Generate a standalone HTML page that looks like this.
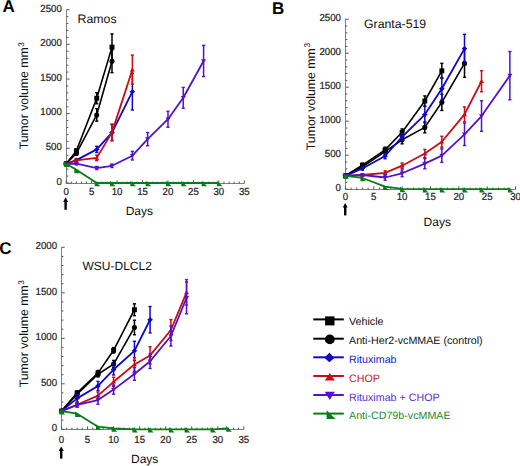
<!DOCTYPE html>
<html><head><meta charset="utf-8"><title>Tumor volume figure</title>
<style>
html,body{margin:0;padding:0;background:#fff;}
body{width:520px;height:466px;overflow:hidden;}
svg{display:block;font-family:"Liberation Sans", sans-serif;text-rendering:geometricPrecision;}
</style></head>
<body>
<svg width="520" height="466" viewBox="0 0 520 466">
<rect width="520" height="466" fill="#fff"/>
<line x1="66" y1="183.5" x2="244.31" y2="183.5" stroke="#808080" stroke-width="1"/>
<line x1="66.5" y1="183.5" x2="66.5" y2="9.7" stroke="#808080" stroke-width="1"/>
<line x1="66.5" y1="183" x2="69.7" y2="183" stroke="#555555" stroke-width="1"/>
<text transform="translate(61.8,184.8) scale(0.95,1)" font-size="10.2" fill="#222222" stroke="#222222" stroke-width="0.22" text-anchor="end">0</text>
<line x1="66.5" y1="176.07" x2="68.4" y2="176.07" stroke="#555555" stroke-width="1"/>
<line x1="66.5" y1="169.14" x2="68.4" y2="169.14" stroke="#555555" stroke-width="1"/>
<line x1="66.5" y1="162.2" x2="68.4" y2="162.2" stroke="#555555" stroke-width="1"/>
<line x1="66.5" y1="155.27" x2="68.4" y2="155.27" stroke="#555555" stroke-width="1"/>
<line x1="66.5" y1="148.34" x2="69.7" y2="148.34" stroke="#555555" stroke-width="1"/>
<text transform="translate(61.8,150.14) scale(0.95,1)" font-size="10.2" fill="#222222" stroke="#222222" stroke-width="0.22" text-anchor="end">500</text>
<line x1="66.5" y1="141.41" x2="68.4" y2="141.41" stroke="#555555" stroke-width="1"/>
<line x1="66.5" y1="134.48" x2="68.4" y2="134.48" stroke="#555555" stroke-width="1"/>
<line x1="66.5" y1="127.54" x2="68.4" y2="127.54" stroke="#555555" stroke-width="1"/>
<line x1="66.5" y1="120.61" x2="68.4" y2="120.61" stroke="#555555" stroke-width="1"/>
<line x1="66.5" y1="113.68" x2="69.7" y2="113.68" stroke="#555555" stroke-width="1"/>
<text transform="translate(61.8,115.48) scale(0.95,1)" font-size="10.2" fill="#222222" stroke="#222222" stroke-width="0.22" text-anchor="end">1000</text>
<line x1="66.5" y1="106.75" x2="68.4" y2="106.75" stroke="#555555" stroke-width="1"/>
<line x1="66.5" y1="99.82" x2="68.4" y2="99.82" stroke="#555555" stroke-width="1"/>
<line x1="66.5" y1="92.88" x2="68.4" y2="92.88" stroke="#555555" stroke-width="1"/>
<line x1="66.5" y1="85.95" x2="68.4" y2="85.95" stroke="#555555" stroke-width="1"/>
<line x1="66.5" y1="79.02" x2="69.7" y2="79.02" stroke="#555555" stroke-width="1"/>
<text transform="translate(61.8,80.82) scale(0.95,1)" font-size="10.2" fill="#222222" stroke="#222222" stroke-width="0.22" text-anchor="end">1500</text>
<line x1="66.5" y1="72.09" x2="68.4" y2="72.09" stroke="#555555" stroke-width="1"/>
<line x1="66.5" y1="65.16" x2="68.4" y2="65.16" stroke="#555555" stroke-width="1"/>
<line x1="66.5" y1="58.22" x2="68.4" y2="58.22" stroke="#555555" stroke-width="1"/>
<line x1="66.5" y1="51.29" x2="68.4" y2="51.29" stroke="#555555" stroke-width="1"/>
<line x1="66.5" y1="44.36" x2="69.7" y2="44.36" stroke="#555555" stroke-width="1"/>
<text transform="translate(61.8,46.16) scale(0.95,1)" font-size="10.2" fill="#222222" stroke="#222222" stroke-width="0.22" text-anchor="end">2000</text>
<line x1="66.5" y1="37.43" x2="68.4" y2="37.43" stroke="#555555" stroke-width="1"/>
<line x1="66.5" y1="30.5" x2="68.4" y2="30.5" stroke="#555555" stroke-width="1"/>
<line x1="66.5" y1="23.56" x2="68.4" y2="23.56" stroke="#555555" stroke-width="1"/>
<line x1="66.5" y1="16.63" x2="68.4" y2="16.63" stroke="#555555" stroke-width="1"/>
<line x1="66.5" y1="9.7" x2="69.7" y2="9.7" stroke="#555555" stroke-width="1"/>
<text transform="translate(61.8,11.5) scale(0.95,1)" font-size="10.2" fill="#222222" stroke="#222222" stroke-width="0.22" text-anchor="end">2500</text>
<line x1="66.2" y1="183.5" x2="66.2" y2="180.3" stroke="#555555" stroke-width="1"/>
<text transform="translate(66.2,194.7) scale(0.95,1)" font-size="10.2" fill="#222222" stroke="#222222" stroke-width="0.22" text-anchor="middle">0</text>
<line x1="71.29" y1="183.5" x2="71.29" y2="181.6" stroke="#555555" stroke-width="1"/>
<line x1="76.38" y1="183.5" x2="76.38" y2="181.6" stroke="#555555" stroke-width="1"/>
<line x1="81.47" y1="183.5" x2="81.47" y2="181.6" stroke="#555555" stroke-width="1"/>
<line x1="86.56" y1="183.5" x2="86.56" y2="181.6" stroke="#555555" stroke-width="1"/>
<line x1="91.65" y1="183.5" x2="91.65" y2="180.3" stroke="#555555" stroke-width="1"/>
<text transform="translate(91.65,194.7) scale(0.95,1)" font-size="10.2" fill="#222222" stroke="#222222" stroke-width="0.22" text-anchor="middle">5</text>
<line x1="96.73" y1="183.5" x2="96.73" y2="181.6" stroke="#555555" stroke-width="1"/>
<line x1="101.82" y1="183.5" x2="101.82" y2="181.6" stroke="#555555" stroke-width="1"/>
<line x1="106.91" y1="183.5" x2="106.91" y2="181.6" stroke="#555555" stroke-width="1"/>
<line x1="112" y1="183.5" x2="112" y2="181.6" stroke="#555555" stroke-width="1"/>
<line x1="117.09" y1="183.5" x2="117.09" y2="180.3" stroke="#555555" stroke-width="1"/>
<text transform="translate(117.09,194.7) scale(0.95,1)" font-size="10.2" fill="#222222" stroke="#222222" stroke-width="0.22" text-anchor="middle">10</text>
<line x1="122.18" y1="183.5" x2="122.18" y2="181.6" stroke="#555555" stroke-width="1"/>
<line x1="127.27" y1="183.5" x2="127.27" y2="181.6" stroke="#555555" stroke-width="1"/>
<line x1="132.36" y1="183.5" x2="132.36" y2="181.6" stroke="#555555" stroke-width="1"/>
<line x1="137.45" y1="183.5" x2="137.45" y2="181.6" stroke="#555555" stroke-width="1"/>
<line x1="142.54" y1="183.5" x2="142.54" y2="180.3" stroke="#555555" stroke-width="1"/>
<text transform="translate(142.54,194.7) scale(0.95,1)" font-size="10.2" fill="#222222" stroke="#222222" stroke-width="0.22" text-anchor="middle">15</text>
<line x1="147.62" y1="183.5" x2="147.62" y2="181.6" stroke="#555555" stroke-width="1"/>
<line x1="152.71" y1="183.5" x2="152.71" y2="181.6" stroke="#555555" stroke-width="1"/>
<line x1="157.8" y1="183.5" x2="157.8" y2="181.6" stroke="#555555" stroke-width="1"/>
<line x1="162.89" y1="183.5" x2="162.89" y2="181.6" stroke="#555555" stroke-width="1"/>
<line x1="167.98" y1="183.5" x2="167.98" y2="180.3" stroke="#555555" stroke-width="1"/>
<text transform="translate(167.98,194.7) scale(0.95,1)" font-size="10.2" fill="#222222" stroke="#222222" stroke-width="0.22" text-anchor="middle">20</text>
<line x1="173.07" y1="183.5" x2="173.07" y2="181.6" stroke="#555555" stroke-width="1"/>
<line x1="178.16" y1="183.5" x2="178.16" y2="181.6" stroke="#555555" stroke-width="1"/>
<line x1="183.25" y1="183.5" x2="183.25" y2="181.6" stroke="#555555" stroke-width="1"/>
<line x1="188.34" y1="183.5" x2="188.34" y2="181.6" stroke="#555555" stroke-width="1"/>
<line x1="193.43" y1="183.5" x2="193.43" y2="180.3" stroke="#555555" stroke-width="1"/>
<text transform="translate(193.43,194.7) scale(0.95,1)" font-size="10.2" fill="#222222" stroke="#222222" stroke-width="0.22" text-anchor="middle">25</text>
<line x1="198.51" y1="183.5" x2="198.51" y2="181.6" stroke="#555555" stroke-width="1"/>
<line x1="203.6" y1="183.5" x2="203.6" y2="181.6" stroke="#555555" stroke-width="1"/>
<line x1="208.69" y1="183.5" x2="208.69" y2="181.6" stroke="#555555" stroke-width="1"/>
<line x1="213.78" y1="183.5" x2="213.78" y2="181.6" stroke="#555555" stroke-width="1"/>
<line x1="218.87" y1="183.5" x2="218.87" y2="180.3" stroke="#555555" stroke-width="1"/>
<text transform="translate(218.87,194.7) scale(0.95,1)" font-size="10.2" fill="#222222" stroke="#222222" stroke-width="0.22" text-anchor="middle">30</text>
<line x1="223.96" y1="183.5" x2="223.96" y2="181.6" stroke="#555555" stroke-width="1"/>
<line x1="229.05" y1="183.5" x2="229.05" y2="181.6" stroke="#555555" stroke-width="1"/>
<line x1="234.14" y1="183.5" x2="234.14" y2="181.6" stroke="#555555" stroke-width="1"/>
<line x1="239.23" y1="183.5" x2="239.23" y2="181.6" stroke="#555555" stroke-width="1"/>
<line x1="244.31" y1="183.5" x2="244.31" y2="180.3" stroke="#555555" stroke-width="1"/>
<text transform="translate(244.31,194.7) scale(0.95,1)" font-size="10.2" fill="#222222" stroke="#222222" stroke-width="0.22" text-anchor="middle">35</text>
<polygon points="65.6,197.3 68.1,201.9 63.1,201.9" fill="#000"/>
<line x1="65.6" y1="201.3" x2="65.6" y2="209.8" stroke="#000" stroke-width="2.4"/>
<text x="77.6" y="22.6" font-size="12.3" fill="#111" text-anchor="start" font-weight="normal">Ramos</text>
<text x="125.7" y="214.7" font-size="12" fill="#111" text-anchor="start" font-weight="normal">Days</text>
<text transform="translate(28.2,149.3) rotate(-90)" font-size="12.3" fill="#111">Tumor volume mm<tspan font-size="8.4" dy="-4.6" dx="0.6">3</tspan></text>
<text x="2.4" y="12.4" font-size="17" fill="#000" text-anchor="start" font-weight="bold">A</text>
<polyline points="66.2,163.73 76.38,150.9 96.73,98.22 112,47.13" fill="none" stroke="#000000" stroke-width="1.6" stroke-linejoin="round"/>
<line x1="76.38" y1="148.83" x2="76.38" y2="152.98" stroke="#000000" stroke-width="1.5"/>
<line x1="74.78" y1="148.83" x2="77.98" y2="148.83" stroke="#000000" stroke-width="1.4"/>
<line x1="74.78" y1="152.98" x2="77.98" y2="152.98" stroke="#000000" stroke-width="1.4"/>
<line x1="96.73" y1="92.68" x2="96.73" y2="103.77" stroke="#000000" stroke-width="1.5"/>
<line x1="95.13" y1="92.68" x2="98.33" y2="92.68" stroke="#000000" stroke-width="1.4"/>
<line x1="95.13" y1="103.77" x2="98.33" y2="103.77" stroke="#000000" stroke-width="1.4"/>
<line x1="112" y1="33.96" x2="112" y2="60.3" stroke="#000000" stroke-width="1.5"/>
<line x1="110.4" y1="33.96" x2="113.6" y2="33.96" stroke="#000000" stroke-width="1.4"/>
<line x1="110.4" y1="60.3" x2="113.6" y2="60.3" stroke="#000000" stroke-width="1.4"/>
<rect x="63.75" y="161.28" width="4.9" height="4.9" fill="#000000"/>
<rect x="73.93" y="148.45" width="4.9" height="4.9" fill="#000000"/>
<rect x="94.28" y="95.77" width="4.9" height="4.9" fill="#000000"/>
<rect x="109.55" y="44.68" width="4.9" height="4.9" fill="#000000"/>
<polyline points="66.2,163.73 76.38,153.4 96.73,114.93 112,61.2" fill="none" stroke="#000000" stroke-width="1.6" stroke-linejoin="round"/>
<line x1="76.38" y1="151.67" x2="76.38" y2="155.13" stroke="#000000" stroke-width="1.5"/>
<line x1="74.78" y1="151.67" x2="77.98" y2="151.67" stroke="#000000" stroke-width="1.4"/>
<line x1="74.78" y1="155.13" x2="77.98" y2="155.13" stroke="#000000" stroke-width="1.4"/>
<line x1="96.73" y1="108.69" x2="96.73" y2="121.17" stroke="#000000" stroke-width="1.5"/>
<line x1="95.13" y1="108.69" x2="98.33" y2="108.69" stroke="#000000" stroke-width="1.4"/>
<line x1="95.13" y1="121.17" x2="98.33" y2="121.17" stroke="#000000" stroke-width="1.4"/>
<line x1="112" y1="49.77" x2="112" y2="72.64" stroke="#000000" stroke-width="1.5"/>
<line x1="110.4" y1="49.77" x2="113.6" y2="49.77" stroke="#000000" stroke-width="1.4"/>
<line x1="110.4" y1="72.64" x2="113.6" y2="72.64" stroke="#000000" stroke-width="1.4"/>
<circle cx="66.2" cy="163.73" r="2.55" fill="#000000"/>
<circle cx="76.38" cy="153.4" r="2.55" fill="#000000"/>
<circle cx="96.73" cy="114.93" r="2.55" fill="#000000"/>
<circle cx="112" cy="61.2" r="2.55" fill="#000000"/>
<polyline points="66.2,163.73 76.38,160.12 96.73,149.38 112,132.54 132.36,91.64" fill="none" stroke="#1008c4" stroke-width="1.8" stroke-linejoin="round"/>
<line x1="76.38" y1="158.74" x2="76.38" y2="161.51" stroke="#1008c4" stroke-width="1.5"/>
<line x1="74.78" y1="158.74" x2="77.98" y2="158.74" stroke="#1008c4" stroke-width="1.4"/>
<line x1="74.78" y1="161.51" x2="77.98" y2="161.51" stroke="#1008c4" stroke-width="1.4"/>
<line x1="96.73" y1="146.26" x2="96.73" y2="152.5" stroke="#1008c4" stroke-width="1.5"/>
<line x1="95.13" y1="146.26" x2="98.33" y2="146.26" stroke="#1008c4" stroke-width="1.4"/>
<line x1="95.13" y1="152.5" x2="98.33" y2="152.5" stroke="#1008c4" stroke-width="1.4"/>
<line x1="112" y1="124.56" x2="112" y2="140.51" stroke="#1008c4" stroke-width="1.5"/>
<line x1="110.4" y1="124.56" x2="113.6" y2="124.56" stroke="#1008c4" stroke-width="1.4"/>
<line x1="110.4" y1="140.51" x2="113.6" y2="140.51" stroke="#1008c4" stroke-width="1.4"/>
<line x1="132.36" y1="73.27" x2="132.36" y2="110.01" stroke="#1008c4" stroke-width="1.5"/>
<line x1="130.76" y1="73.27" x2="133.96" y2="73.27" stroke="#1008c4" stroke-width="1.4"/>
<line x1="130.76" y1="110.01" x2="133.96" y2="110.01" stroke="#1008c4" stroke-width="1.4"/>
<polygon points="66.2,161.03 69,163.73 66.2,166.43 63.4,163.73" fill="#1008c4"/>
<polygon points="76.38,157.42 79.18,160.12 76.38,162.82 73.58,160.12" fill="#1008c4"/>
<polygon points="96.73,146.68 99.53,149.38 96.73,152.08 93.93,149.38" fill="#1008c4"/>
<polygon points="112,129.84 114.8,132.54 112,135.24 109.2,132.54" fill="#1008c4"/>
<polygon points="132.36,88.94 135.16,91.64 132.36,94.34 129.56,91.64" fill="#1008c4"/>
<polyline points="66.2,163.73 76.38,160.33 96.73,157.91 112,132.4 132.36,69.66" fill="none" stroke="#c80c18" stroke-width="1.8" stroke-linejoin="round"/>
<line x1="76.38" y1="158.95" x2="76.38" y2="161.72" stroke="#c80c18" stroke-width="1.5"/>
<line x1="74.78" y1="158.95" x2="77.98" y2="158.95" stroke="#c80c18" stroke-width="1.4"/>
<line x1="74.78" y1="161.72" x2="77.98" y2="161.72" stroke="#c80c18" stroke-width="1.4"/>
<line x1="96.73" y1="155.13" x2="96.73" y2="160.68" stroke="#c80c18" stroke-width="1.5"/>
<line x1="95.13" y1="155.13" x2="98.33" y2="155.13" stroke="#c80c18" stroke-width="1.4"/>
<line x1="95.13" y1="160.68" x2="98.33" y2="160.68" stroke="#c80c18" stroke-width="1.4"/>
<line x1="112" y1="124.08" x2="112" y2="140.71" stroke="#c80c18" stroke-width="1.5"/>
<line x1="110.4" y1="124.08" x2="113.6" y2="124.08" stroke="#c80c18" stroke-width="1.4"/>
<line x1="110.4" y1="140.71" x2="113.6" y2="140.71" stroke="#c80c18" stroke-width="1.4"/>
<line x1="132.36" y1="55.1" x2="132.36" y2="84.22" stroke="#c80c18" stroke-width="1.5"/>
<line x1="130.76" y1="55.1" x2="133.96" y2="55.1" stroke="#c80c18" stroke-width="1.4"/>
<line x1="130.76" y1="84.22" x2="133.96" y2="84.22" stroke="#c80c18" stroke-width="1.4"/>
<polygon points="66.2,161.53 68.7,165.53 63.7,165.53" fill="#c80c18"/>
<polygon points="76.38,158.13 78.88,162.13 73.88,162.13" fill="#c80c18"/>
<polygon points="96.73,155.71 99.23,159.71 94.23,159.71" fill="#c80c18"/>
<polygon points="112,130.2 114.5,134.2 109.5,134.2" fill="#c80c18"/>
<polygon points="132.36,67.46 134.86,71.46 129.86,71.46" fill="#c80c18"/>
<polyline points="66.2,163.73 76.38,163.73 96.73,168.03 112,165.81 132.36,155.69 147.62,139.12 167.98,119.23 183.25,97.81 203.6,61" fill="none" stroke="#5412cc" stroke-width="1.8" stroke-linejoin="round"/>
<line x1="76.38" y1="162.69" x2="76.38" y2="164.77" stroke="#5412cc" stroke-width="1.5"/>
<line x1="74.78" y1="162.69" x2="77.98" y2="162.69" stroke="#5412cc" stroke-width="1.4"/>
<line x1="74.78" y1="164.77" x2="77.98" y2="164.77" stroke="#5412cc" stroke-width="1.4"/>
<line x1="96.73" y1="166.5" x2="96.73" y2="169.55" stroke="#5412cc" stroke-width="1.5"/>
<line x1="95.13" y1="166.5" x2="98.33" y2="166.5" stroke="#5412cc" stroke-width="1.4"/>
<line x1="95.13" y1="169.55" x2="98.33" y2="169.55" stroke="#5412cc" stroke-width="1.4"/>
<line x1="112" y1="164.08" x2="112" y2="167.54" stroke="#5412cc" stroke-width="1.5"/>
<line x1="110.4" y1="164.08" x2="113.6" y2="164.08" stroke="#5412cc" stroke-width="1.4"/>
<line x1="110.4" y1="167.54" x2="113.6" y2="167.54" stroke="#5412cc" stroke-width="1.4"/>
<line x1="132.36" y1="151.39" x2="132.36" y2="159.99" stroke="#5412cc" stroke-width="1.5"/>
<line x1="130.76" y1="151.39" x2="133.96" y2="151.39" stroke="#5412cc" stroke-width="1.4"/>
<line x1="130.76" y1="159.99" x2="133.96" y2="159.99" stroke="#5412cc" stroke-width="1.4"/>
<line x1="147.62" y1="132.54" x2="147.62" y2="145.71" stroke="#5412cc" stroke-width="1.5"/>
<line x1="146.02" y1="132.54" x2="149.22" y2="132.54" stroke="#5412cc" stroke-width="1.4"/>
<line x1="146.02" y1="145.71" x2="149.22" y2="145.71" stroke="#5412cc" stroke-width="1.4"/>
<line x1="167.98" y1="111.25" x2="167.98" y2="127.2" stroke="#5412cc" stroke-width="1.5"/>
<line x1="166.38" y1="111.25" x2="169.58" y2="111.25" stroke="#5412cc" stroke-width="1.4"/>
<line x1="166.38" y1="127.2" x2="169.58" y2="127.2" stroke="#5412cc" stroke-width="1.4"/>
<line x1="183.25" y1="87.41" x2="183.25" y2="108.2" stroke="#5412cc" stroke-width="1.5"/>
<line x1="181.65" y1="87.41" x2="184.85" y2="87.41" stroke="#5412cc" stroke-width="1.4"/>
<line x1="181.65" y1="108.2" x2="184.85" y2="108.2" stroke="#5412cc" stroke-width="1.4"/>
<line x1="203.6" y1="45.4" x2="203.6" y2="76.59" stroke="#5412cc" stroke-width="1.5"/>
<line x1="202" y1="45.4" x2="205.2" y2="45.4" stroke="#5412cc" stroke-width="1.4"/>
<line x1="202" y1="76.59" x2="205.2" y2="76.59" stroke="#5412cc" stroke-width="1.4"/>
<polygon points="66.2,165.93 68.7,161.93 63.7,161.93" fill="#5412cc"/>
<polygon points="76.38,165.93 78.88,161.93 73.88,161.93" fill="#5412cc"/>
<polygon points="96.73,170.23 99.23,166.23 94.23,166.23" fill="#5412cc"/>
<polygon points="112,168.01 114.5,164.01 109.5,164.01" fill="#5412cc"/>
<polygon points="132.36,157.89 134.86,153.89 129.86,153.89" fill="#5412cc"/>
<polygon points="147.62,141.32 150.12,137.32 145.12,137.32" fill="#5412cc"/>
<polygon points="167.98,121.43 170.48,117.43 165.48,117.43" fill="#5412cc"/>
<polygon points="183.25,100.01 185.75,96.01 180.75,96.01" fill="#5412cc"/>
<polygon points="203.6,63.2 206.1,59.2 201.1,59.2" fill="#5412cc"/>
<polyline points="66.2,163.73 76.38,169.83 96.73,183 112,183 132.36,183 147.62,183 167.98,183 183.25,183 203.6,183 218.87,183" fill="none" stroke="#077c18" stroke-width="1.8" stroke-linejoin="round"/>
<polygon points="64.2,161.43 64.2,167.03 69.8,167.03" fill="#077c18"/>
<polygon points="74.38,167.53 74.38,173.13 79.98,173.13" fill="#077c18"/>
<polygon points="94.73,180.7 94.73,186.3 100.33,186.3" fill="#077c18"/>
<polygon points="110,180.7 110,186.3 115.6,186.3" fill="#077c18"/>
<polygon points="130.36,180.7 130.36,186.3 135.96,186.3" fill="#077c18"/>
<polygon points="145.62,180.7 145.62,186.3 151.22,186.3" fill="#077c18"/>
<polygon points="165.98,180.7 165.98,186.3 171.58,186.3" fill="#077c18"/>
<polygon points="181.25,180.7 181.25,186.3 186.85,186.3" fill="#077c18"/>
<polygon points="201.6,180.7 201.6,186.3 207.2,186.3" fill="#077c18"/>
<polygon points="216.87,180.7 216.87,186.3 222.47,186.3" fill="#077c18"/>
<line x1="345" y1="189.5" x2="515.56" y2="189.5" stroke="#808080" stroke-width="1"/>
<line x1="345.5" y1="189.5" x2="345.5" y2="19.2" stroke="#808080" stroke-width="1"/>
<line x1="345.5" y1="189.2" x2="348.7" y2="189.2" stroke="#555555" stroke-width="1"/>
<text transform="translate(341,191) scale(0.95,1)" font-size="10.2" fill="#222222" stroke="#222222" stroke-width="0.22" text-anchor="end">0</text>
<line x1="345.5" y1="182.4" x2="347.4" y2="182.4" stroke="#555555" stroke-width="1"/>
<line x1="345.5" y1="175.6" x2="347.4" y2="175.6" stroke="#555555" stroke-width="1"/>
<line x1="345.5" y1="168.8" x2="347.4" y2="168.8" stroke="#555555" stroke-width="1"/>
<line x1="345.5" y1="162" x2="347.4" y2="162" stroke="#555555" stroke-width="1"/>
<line x1="345.5" y1="155.2" x2="348.7" y2="155.2" stroke="#555555" stroke-width="1"/>
<text transform="translate(341,157) scale(0.95,1)" font-size="10.2" fill="#222222" stroke="#222222" stroke-width="0.22" text-anchor="end">500</text>
<line x1="345.5" y1="148.4" x2="347.4" y2="148.4" stroke="#555555" stroke-width="1"/>
<line x1="345.5" y1="141.6" x2="347.4" y2="141.6" stroke="#555555" stroke-width="1"/>
<line x1="345.5" y1="134.8" x2="347.4" y2="134.8" stroke="#555555" stroke-width="1"/>
<line x1="345.5" y1="128" x2="347.4" y2="128" stroke="#555555" stroke-width="1"/>
<line x1="345.5" y1="121.2" x2="348.7" y2="121.2" stroke="#555555" stroke-width="1"/>
<text transform="translate(341,123) scale(0.95,1)" font-size="10.2" fill="#222222" stroke="#222222" stroke-width="0.22" text-anchor="end">1000</text>
<line x1="345.5" y1="114.4" x2="347.4" y2="114.4" stroke="#555555" stroke-width="1"/>
<line x1="345.5" y1="107.6" x2="347.4" y2="107.6" stroke="#555555" stroke-width="1"/>
<line x1="345.5" y1="100.8" x2="347.4" y2="100.8" stroke="#555555" stroke-width="1"/>
<line x1="345.5" y1="94" x2="347.4" y2="94" stroke="#555555" stroke-width="1"/>
<line x1="345.5" y1="87.2" x2="348.7" y2="87.2" stroke="#555555" stroke-width="1"/>
<text transform="translate(341,89) scale(0.95,1)" font-size="10.2" fill="#222222" stroke="#222222" stroke-width="0.22" text-anchor="end">1500</text>
<line x1="345.5" y1="80.4" x2="347.4" y2="80.4" stroke="#555555" stroke-width="1"/>
<line x1="345.5" y1="73.6" x2="347.4" y2="73.6" stroke="#555555" stroke-width="1"/>
<line x1="345.5" y1="66.8" x2="347.4" y2="66.8" stroke="#555555" stroke-width="1"/>
<line x1="345.5" y1="60" x2="347.4" y2="60" stroke="#555555" stroke-width="1"/>
<line x1="345.5" y1="53.2" x2="348.7" y2="53.2" stroke="#555555" stroke-width="1"/>
<text transform="translate(341,55) scale(0.95,1)" font-size="10.2" fill="#222222" stroke="#222222" stroke-width="0.22" text-anchor="end">2000</text>
<line x1="345.5" y1="46.4" x2="347.4" y2="46.4" stroke="#555555" stroke-width="1"/>
<line x1="345.5" y1="39.6" x2="347.4" y2="39.6" stroke="#555555" stroke-width="1"/>
<line x1="345.5" y1="32.8" x2="347.4" y2="32.8" stroke="#555555" stroke-width="1"/>
<line x1="345.5" y1="26" x2="347.4" y2="26" stroke="#555555" stroke-width="1"/>
<line x1="345.5" y1="19.2" x2="348.7" y2="19.2" stroke="#555555" stroke-width="1"/>
<text transform="translate(341,21) scale(0.95,1)" font-size="10.2" fill="#222222" stroke="#222222" stroke-width="0.22" text-anchor="end">2500</text>
<line x1="345.4" y1="189.5" x2="345.4" y2="186.3" stroke="#555555" stroke-width="1"/>
<text transform="translate(345.4,200.1) scale(0.95,1)" font-size="10.2" fill="#222222" stroke="#222222" stroke-width="0.22" text-anchor="middle">0</text>
<line x1="351.07" y1="189.5" x2="351.07" y2="187.6" stroke="#555555" stroke-width="1"/>
<line x1="356.74" y1="189.5" x2="356.74" y2="187.6" stroke="#555555" stroke-width="1"/>
<line x1="362.42" y1="189.5" x2="362.42" y2="187.6" stroke="#555555" stroke-width="1"/>
<line x1="368.09" y1="189.5" x2="368.09" y2="187.6" stroke="#555555" stroke-width="1"/>
<line x1="373.76" y1="189.5" x2="373.76" y2="186.3" stroke="#555555" stroke-width="1"/>
<text transform="translate(373.76,200.1) scale(0.95,1)" font-size="10.2" fill="#222222" stroke="#222222" stroke-width="0.22" text-anchor="middle">5</text>
<line x1="379.43" y1="189.5" x2="379.43" y2="187.6" stroke="#555555" stroke-width="1"/>
<line x1="385.1" y1="189.5" x2="385.1" y2="187.6" stroke="#555555" stroke-width="1"/>
<line x1="390.78" y1="189.5" x2="390.78" y2="187.6" stroke="#555555" stroke-width="1"/>
<line x1="396.45" y1="189.5" x2="396.45" y2="187.6" stroke="#555555" stroke-width="1"/>
<line x1="402.12" y1="189.5" x2="402.12" y2="186.3" stroke="#555555" stroke-width="1"/>
<text transform="translate(402.12,200.1) scale(0.95,1)" font-size="10.2" fill="#222222" stroke="#222222" stroke-width="0.22" text-anchor="middle">10</text>
<line x1="407.79" y1="189.5" x2="407.79" y2="187.6" stroke="#555555" stroke-width="1"/>
<line x1="413.46" y1="189.5" x2="413.46" y2="187.6" stroke="#555555" stroke-width="1"/>
<line x1="419.14" y1="189.5" x2="419.14" y2="187.6" stroke="#555555" stroke-width="1"/>
<line x1="424.81" y1="189.5" x2="424.81" y2="187.6" stroke="#555555" stroke-width="1"/>
<line x1="430.48" y1="189.5" x2="430.48" y2="186.3" stroke="#555555" stroke-width="1"/>
<text transform="translate(430.48,200.1) scale(0.95,1)" font-size="10.2" fill="#222222" stroke="#222222" stroke-width="0.22" text-anchor="middle">15</text>
<line x1="436.15" y1="189.5" x2="436.15" y2="187.6" stroke="#555555" stroke-width="1"/>
<line x1="441.82" y1="189.5" x2="441.82" y2="187.6" stroke="#555555" stroke-width="1"/>
<line x1="447.5" y1="189.5" x2="447.5" y2="187.6" stroke="#555555" stroke-width="1"/>
<line x1="453.17" y1="189.5" x2="453.17" y2="187.6" stroke="#555555" stroke-width="1"/>
<line x1="458.84" y1="189.5" x2="458.84" y2="186.3" stroke="#555555" stroke-width="1"/>
<text transform="translate(458.84,200.1) scale(0.95,1)" font-size="10.2" fill="#222222" stroke="#222222" stroke-width="0.22" text-anchor="middle">20</text>
<line x1="464.51" y1="189.5" x2="464.51" y2="187.6" stroke="#555555" stroke-width="1"/>
<line x1="470.18" y1="189.5" x2="470.18" y2="187.6" stroke="#555555" stroke-width="1"/>
<line x1="475.86" y1="189.5" x2="475.86" y2="187.6" stroke="#555555" stroke-width="1"/>
<line x1="481.53" y1="189.5" x2="481.53" y2="187.6" stroke="#555555" stroke-width="1"/>
<line x1="487.2" y1="189.5" x2="487.2" y2="186.3" stroke="#555555" stroke-width="1"/>
<text transform="translate(487.2,200.1) scale(0.95,1)" font-size="10.2" fill="#222222" stroke="#222222" stroke-width="0.22" text-anchor="middle">25</text>
<line x1="492.87" y1="189.5" x2="492.87" y2="187.6" stroke="#555555" stroke-width="1"/>
<line x1="498.54" y1="189.5" x2="498.54" y2="187.6" stroke="#555555" stroke-width="1"/>
<line x1="504.22" y1="189.5" x2="504.22" y2="187.6" stroke="#555555" stroke-width="1"/>
<line x1="509.89" y1="189.5" x2="509.89" y2="187.6" stroke="#555555" stroke-width="1"/>
<line x1="515.56" y1="189.5" x2="515.56" y2="186.3" stroke="#555555" stroke-width="1"/>
<text transform="translate(515.56,200.1) scale(0.95,1)" font-size="10.2" fill="#222222" stroke="#222222" stroke-width="0.22" text-anchor="middle">30</text>
<polygon points="345.2,202.9 347.7,207.5 342.7,207.5" fill="#000"/>
<line x1="345.2" y1="206.9" x2="345.2" y2="215.4" stroke="#000" stroke-width="2.4"/>
<text x="364" y="27.9" font-size="12.3" fill="#111" text-anchor="start" font-weight="normal">Granta-519</text>
<text x="423.6" y="225.6" font-size="12" fill="#111" text-anchor="start" font-weight="normal">Days</text>
<text transform="translate(314.8,150.2) rotate(-90)" font-size="12.3" fill="#111">Tumor volume mm<tspan font-size="8.4" dy="-4.6" dx="0.6">3</tspan></text>
<text x="272" y="14.4" font-size="17" fill="#000" text-anchor="start" font-weight="bold">B</text>
<polyline points="345.4,175.8 362.42,165.2 385.1,149.9 402.12,132.28 424.81,101 441.82,70.81" fill="none" stroke="#000000" stroke-width="1.6" stroke-linejoin="round"/>
<line x1="362.42" y1="163.16" x2="362.42" y2="167.24" stroke="#000000" stroke-width="1.5"/>
<line x1="360.82" y1="163.16" x2="364.02" y2="163.16" stroke="#000000" stroke-width="1.4"/>
<line x1="360.82" y1="167.24" x2="364.02" y2="167.24" stroke="#000000" stroke-width="1.4"/>
<line x1="385.1" y1="147.18" x2="385.1" y2="152.62" stroke="#000000" stroke-width="1.5"/>
<line x1="383.5" y1="147.18" x2="386.7" y2="147.18" stroke="#000000" stroke-width="1.4"/>
<line x1="383.5" y1="152.62" x2="386.7" y2="152.62" stroke="#000000" stroke-width="1.4"/>
<line x1="402.12" y1="128.88" x2="402.12" y2="135.68" stroke="#000000" stroke-width="1.5"/>
<line x1="400.52" y1="128.88" x2="403.72" y2="128.88" stroke="#000000" stroke-width="1.4"/>
<line x1="400.52" y1="135.68" x2="403.72" y2="135.68" stroke="#000000" stroke-width="1.4"/>
<line x1="424.81" y1="95.9" x2="424.81" y2="106.1" stroke="#000000" stroke-width="1.5"/>
<line x1="423.21" y1="95.9" x2="426.41" y2="95.9" stroke="#000000" stroke-width="1.4"/>
<line x1="423.21" y1="106.1" x2="426.41" y2="106.1" stroke="#000000" stroke-width="1.4"/>
<line x1="441.82" y1="63.33" x2="441.82" y2="78.29" stroke="#000000" stroke-width="1.5"/>
<line x1="440.22" y1="63.33" x2="443.42" y2="63.33" stroke="#000000" stroke-width="1.4"/>
<line x1="440.22" y1="78.29" x2="443.42" y2="78.29" stroke="#000000" stroke-width="1.4"/>
<rect x="342.95" y="173.35" width="4.9" height="4.9" fill="#000000"/>
<rect x="359.97" y="162.75" width="4.9" height="4.9" fill="#000000"/>
<rect x="382.65" y="147.45" width="4.9" height="4.9" fill="#000000"/>
<rect x="399.67" y="129.83" width="4.9" height="4.9" fill="#000000"/>
<rect x="422.36" y="98.55" width="4.9" height="4.9" fill="#000000"/>
<rect x="439.37" y="68.36" width="4.9" height="4.9" fill="#000000"/>
<polyline points="345.4,175.8 362.42,166.76 385.1,151.6 402.12,139.76 424.81,127.39 441.82,102.3 464.51,63.4" fill="none" stroke="#000000" stroke-width="1.6" stroke-linejoin="round"/>
<line x1="362.42" y1="165.06" x2="362.42" y2="168.46" stroke="#000000" stroke-width="1.5"/>
<line x1="360.82" y1="165.06" x2="364.02" y2="165.06" stroke="#000000" stroke-width="1.4"/>
<line x1="360.82" y1="168.46" x2="364.02" y2="168.46" stroke="#000000" stroke-width="1.4"/>
<line x1="385.1" y1="149.22" x2="385.1" y2="153.98" stroke="#000000" stroke-width="1.5"/>
<line x1="383.5" y1="149.22" x2="386.7" y2="149.22" stroke="#000000" stroke-width="1.4"/>
<line x1="383.5" y1="153.98" x2="386.7" y2="153.98" stroke="#000000" stroke-width="1.4"/>
<line x1="402.12" y1="135.68" x2="402.12" y2="143.84" stroke="#000000" stroke-width="1.5"/>
<line x1="400.52" y1="135.68" x2="403.72" y2="135.68" stroke="#000000" stroke-width="1.4"/>
<line x1="400.52" y1="143.84" x2="403.72" y2="143.84" stroke="#000000" stroke-width="1.4"/>
<line x1="424.81" y1="121.95" x2="424.81" y2="132.83" stroke="#000000" stroke-width="1.5"/>
<line x1="423.21" y1="121.95" x2="426.41" y2="121.95" stroke="#000000" stroke-width="1.4"/>
<line x1="423.21" y1="132.83" x2="426.41" y2="132.83" stroke="#000000" stroke-width="1.4"/>
<line x1="441.82" y1="94.14" x2="441.82" y2="110.46" stroke="#000000" stroke-width="1.5"/>
<line x1="440.22" y1="94.14" x2="443.42" y2="94.14" stroke="#000000" stroke-width="1.4"/>
<line x1="440.22" y1="110.46" x2="443.42" y2="110.46" stroke="#000000" stroke-width="1.4"/>
<line x1="464.51" y1="49.46" x2="464.51" y2="77.34" stroke="#000000" stroke-width="1.5"/>
<line x1="462.91" y1="49.46" x2="466.11" y2="49.46" stroke="#000000" stroke-width="1.4"/>
<line x1="462.91" y1="77.34" x2="466.11" y2="77.34" stroke="#000000" stroke-width="1.4"/>
<circle cx="345.4" cy="175.8" r="2.55" fill="#000000"/>
<circle cx="362.42" cy="166.76" r="2.55" fill="#000000"/>
<circle cx="385.1" cy="151.6" r="2.55" fill="#000000"/>
<circle cx="402.12" cy="139.76" r="2.55" fill="#000000"/>
<circle cx="424.81" cy="127.39" r="2.55" fill="#000000"/>
<circle cx="441.82" cy="102.3" r="2.55" fill="#000000"/>
<circle cx="464.51" cy="63.4" r="2.55" fill="#000000"/>
<polyline points="345.4,175.8 362.42,168.46 385.1,156.02 402.12,136.77 424.81,114.6 441.82,88.7 464.51,48.58" fill="none" stroke="#1008c4" stroke-width="1.8" stroke-linejoin="round"/>
<line x1="362.42" y1="166.76" x2="362.42" y2="170.16" stroke="#1008c4" stroke-width="1.5"/>
<line x1="360.82" y1="166.76" x2="364.02" y2="166.76" stroke="#1008c4" stroke-width="1.4"/>
<line x1="360.82" y1="170.16" x2="364.02" y2="170.16" stroke="#1008c4" stroke-width="1.4"/>
<line x1="385.1" y1="153.3" x2="385.1" y2="158.74" stroke="#1008c4" stroke-width="1.5"/>
<line x1="383.5" y1="153.3" x2="386.7" y2="153.3" stroke="#1008c4" stroke-width="1.4"/>
<line x1="383.5" y1="158.74" x2="386.7" y2="158.74" stroke="#1008c4" stroke-width="1.4"/>
<line x1="402.12" y1="133.37" x2="402.12" y2="140.17" stroke="#1008c4" stroke-width="1.5"/>
<line x1="400.52" y1="133.37" x2="403.72" y2="133.37" stroke="#1008c4" stroke-width="1.4"/>
<line x1="400.52" y1="140.17" x2="403.72" y2="140.17" stroke="#1008c4" stroke-width="1.4"/>
<line x1="424.81" y1="106.44" x2="424.81" y2="122.76" stroke="#1008c4" stroke-width="1.5"/>
<line x1="423.21" y1="106.44" x2="426.41" y2="106.44" stroke="#1008c4" stroke-width="1.4"/>
<line x1="423.21" y1="122.76" x2="426.41" y2="122.76" stroke="#1008c4" stroke-width="1.4"/>
<line x1="441.82" y1="77.48" x2="441.82" y2="99.92" stroke="#1008c4" stroke-width="1.5"/>
<line x1="440.22" y1="77.48" x2="443.42" y2="77.48" stroke="#1008c4" stroke-width="1.4"/>
<line x1="440.22" y1="99.92" x2="443.42" y2="99.92" stroke="#1008c4" stroke-width="1.4"/>
<line x1="464.51" y1="34.3" x2="464.51" y2="62.86" stroke="#1008c4" stroke-width="1.5"/>
<line x1="462.91" y1="34.3" x2="466.11" y2="34.3" stroke="#1008c4" stroke-width="1.4"/>
<line x1="462.91" y1="62.86" x2="466.11" y2="62.86" stroke="#1008c4" stroke-width="1.4"/>
<polygon points="345.4,173.1 348.2,175.8 345.4,178.5 342.6,175.8" fill="#1008c4"/>
<polygon points="362.42,165.76 365.22,168.46 362.42,171.16 359.62,168.46" fill="#1008c4"/>
<polygon points="385.1,153.32 387.9,156.02 385.1,158.72 382.3,156.02" fill="#1008c4"/>
<polygon points="402.12,134.07 404.92,136.77 402.12,139.47 399.32,136.77" fill="#1008c4"/>
<polygon points="424.81,111.9 427.61,114.6 424.81,117.3 422.01,114.6" fill="#1008c4"/>
<polygon points="441.82,86 444.62,88.7 441.82,91.4 439.02,88.7" fill="#1008c4"/>
<polygon points="464.51,45.88 467.31,48.58 464.51,51.28 461.71,48.58" fill="#1008c4"/>
<polyline points="345.4,175.8 362.42,174.99 385.1,172.81 402.12,165.67 424.81,153.5 441.82,141.74 464.51,114.4 481.53,81.22" fill="none" stroke="#c80c18" stroke-width="1.8" stroke-linejoin="round"/>
<line x1="362.42" y1="173.97" x2="362.42" y2="176.01" stroke="#c80c18" stroke-width="1.5"/>
<line x1="360.82" y1="173.97" x2="364.02" y2="173.97" stroke="#c80c18" stroke-width="1.4"/>
<line x1="360.82" y1="176.01" x2="364.02" y2="176.01" stroke="#c80c18" stroke-width="1.4"/>
<line x1="385.1" y1="170.77" x2="385.1" y2="174.85" stroke="#c80c18" stroke-width="1.5"/>
<line x1="383.5" y1="170.77" x2="386.7" y2="170.77" stroke="#c80c18" stroke-width="1.4"/>
<line x1="383.5" y1="174.85" x2="386.7" y2="174.85" stroke="#c80c18" stroke-width="1.4"/>
<line x1="402.12" y1="162.95" x2="402.12" y2="168.39" stroke="#c80c18" stroke-width="1.5"/>
<line x1="400.52" y1="162.95" x2="403.72" y2="162.95" stroke="#c80c18" stroke-width="1.4"/>
<line x1="400.52" y1="168.39" x2="403.72" y2="168.39" stroke="#c80c18" stroke-width="1.4"/>
<line x1="424.81" y1="149.42" x2="424.81" y2="157.58" stroke="#c80c18" stroke-width="1.5"/>
<line x1="423.21" y1="149.42" x2="426.41" y2="149.42" stroke="#c80c18" stroke-width="1.4"/>
<line x1="423.21" y1="157.58" x2="426.41" y2="157.58" stroke="#c80c18" stroke-width="1.4"/>
<line x1="441.82" y1="136.3" x2="441.82" y2="147.18" stroke="#c80c18" stroke-width="1.5"/>
<line x1="440.22" y1="136.3" x2="443.42" y2="136.3" stroke="#c80c18" stroke-width="1.4"/>
<line x1="440.22" y1="147.18" x2="443.42" y2="147.18" stroke="#c80c18" stroke-width="1.4"/>
<line x1="464.51" y1="106.92" x2="464.51" y2="121.88" stroke="#c80c18" stroke-width="1.5"/>
<line x1="462.91" y1="106.92" x2="466.11" y2="106.92" stroke="#c80c18" stroke-width="1.4"/>
<line x1="462.91" y1="121.88" x2="466.11" y2="121.88" stroke="#c80c18" stroke-width="1.4"/>
<line x1="481.53" y1="70.68" x2="481.53" y2="91.76" stroke="#c80c18" stroke-width="1.5"/>
<line x1="479.93" y1="70.68" x2="483.13" y2="70.68" stroke="#c80c18" stroke-width="1.4"/>
<line x1="479.93" y1="91.76" x2="483.13" y2="91.76" stroke="#c80c18" stroke-width="1.4"/>
<polygon points="345.4,173.6 347.9,177.6 342.9,177.6" fill="#c80c18"/>
<polygon points="362.42,172.79 364.92,176.79 359.92,176.79" fill="#c80c18"/>
<polygon points="385.1,170.61 387.6,174.61 382.6,174.61" fill="#c80c18"/>
<polygon points="402.12,163.47 404.62,167.47 399.62,167.47" fill="#c80c18"/>
<polygon points="424.81,151.3 427.31,155.3 422.31,155.3" fill="#c80c18"/>
<polygon points="441.82,139.54 444.32,143.54 439.32,143.54" fill="#c80c18"/>
<polygon points="464.51,112.2 467.01,116.2 462.01,116.2" fill="#c80c18"/>
<polygon points="481.53,79.02 484.03,83.02 479.03,83.02" fill="#c80c18"/>
<polyline points="345.4,175.8 362.42,174.99 385.1,177.5 402.12,173.29 424.81,163.63 441.82,155.61 464.51,134.32 481.53,116.03 509.89,75.64" fill="none" stroke="#5412cc" stroke-width="1.8" stroke-linejoin="round"/>
<line x1="362.42" y1="173.97" x2="362.42" y2="176.01" stroke="#5412cc" stroke-width="1.5"/>
<line x1="360.82" y1="173.97" x2="364.02" y2="173.97" stroke="#5412cc" stroke-width="1.4"/>
<line x1="360.82" y1="176.01" x2="364.02" y2="176.01" stroke="#5412cc" stroke-width="1.4"/>
<line x1="385.1" y1="174.78" x2="385.1" y2="180.22" stroke="#5412cc" stroke-width="1.5"/>
<line x1="383.5" y1="174.78" x2="386.7" y2="174.78" stroke="#5412cc" stroke-width="1.4"/>
<line x1="383.5" y1="180.22" x2="386.7" y2="180.22" stroke="#5412cc" stroke-width="1.4"/>
<line x1="402.12" y1="169.89" x2="402.12" y2="176.69" stroke="#5412cc" stroke-width="1.5"/>
<line x1="400.52" y1="169.89" x2="403.72" y2="169.89" stroke="#5412cc" stroke-width="1.4"/>
<line x1="400.52" y1="176.69" x2="403.72" y2="176.69" stroke="#5412cc" stroke-width="1.4"/>
<line x1="424.81" y1="158.53" x2="424.81" y2="168.73" stroke="#5412cc" stroke-width="1.5"/>
<line x1="423.21" y1="158.53" x2="426.41" y2="158.53" stroke="#5412cc" stroke-width="1.4"/>
<line x1="423.21" y1="168.73" x2="426.41" y2="168.73" stroke="#5412cc" stroke-width="1.4"/>
<line x1="441.82" y1="148.81" x2="441.82" y2="162.41" stroke="#5412cc" stroke-width="1.5"/>
<line x1="440.22" y1="148.81" x2="443.42" y2="148.81" stroke="#5412cc" stroke-width="1.4"/>
<line x1="440.22" y1="162.41" x2="443.42" y2="162.41" stroke="#5412cc" stroke-width="1.4"/>
<line x1="464.51" y1="123.1" x2="464.51" y2="145.54" stroke="#5412cc" stroke-width="1.5"/>
<line x1="462.91" y1="123.1" x2="466.11" y2="123.1" stroke="#5412cc" stroke-width="1.4"/>
<line x1="462.91" y1="145.54" x2="466.11" y2="145.54" stroke="#5412cc" stroke-width="1.4"/>
<line x1="481.53" y1="100.73" x2="481.53" y2="131.33" stroke="#5412cc" stroke-width="1.5"/>
<line x1="479.93" y1="100.73" x2="483.13" y2="100.73" stroke="#5412cc" stroke-width="1.4"/>
<line x1="479.93" y1="131.33" x2="483.13" y2="131.33" stroke="#5412cc" stroke-width="1.4"/>
<line x1="509.89" y1="51.5" x2="509.89" y2="99.78" stroke="#5412cc" stroke-width="1.5"/>
<line x1="508.29" y1="51.5" x2="511.49" y2="51.5" stroke="#5412cc" stroke-width="1.4"/>
<line x1="508.29" y1="99.78" x2="511.49" y2="99.78" stroke="#5412cc" stroke-width="1.4"/>
<polygon points="345.4,178 347.9,174 342.9,174" fill="#5412cc"/>
<polygon points="362.42,177.19 364.92,173.19 359.92,173.19" fill="#5412cc"/>
<polygon points="385.1,179.7 387.6,175.7 382.6,175.7" fill="#5412cc"/>
<polygon points="402.12,175.49 404.62,171.49 399.62,171.49" fill="#5412cc"/>
<polygon points="424.81,165.83 427.31,161.83 422.31,161.83" fill="#5412cc"/>
<polygon points="441.82,157.81 444.32,153.81 439.32,153.81" fill="#5412cc"/>
<polygon points="464.51,136.52 467.01,132.52 462.01,132.52" fill="#5412cc"/>
<polygon points="481.53,118.23 484.03,114.23 479.03,114.23" fill="#5412cc"/>
<polygon points="509.89,77.84 512.39,73.84 507.39,73.84" fill="#5412cc"/>
<polyline points="345.4,175.8 362.42,177.98 385.1,186.68 402.12,188.86 424.81,189.2 441.82,189.2 464.51,189.2 481.53,189.2 509.89,189.2" fill="none" stroke="#077c18" stroke-width="1.8" stroke-linejoin="round"/>
<polygon points="343.4,173.5 343.4,179.1 349,179.1" fill="#077c18"/>
<polygon points="360.42,175.68 360.42,181.28 366.02,181.28" fill="#077c18"/>
<polygon points="383.1,184.38 383.1,189.98 388.7,189.98" fill="#077c18"/>
<polygon points="400.12,186.56 400.12,192.16 405.72,192.16" fill="#077c18"/>
<polygon points="422.81,186.9 422.81,192.5 428.41,192.5" fill="#077c18"/>
<polygon points="439.82,186.9 439.82,192.5 445.42,192.5" fill="#077c18"/>
<polygon points="462.51,186.9 462.51,192.5 468.11,192.5" fill="#077c18"/>
<polygon points="479.53,186.9 479.53,192.5 485.13,192.5" fill="#077c18"/>
<polygon points="507.89,186.9 507.89,192.5 513.49,192.5" fill="#077c18"/>
<line x1="61" y1="429.5" x2="243.85" y2="429.5" stroke="#808080" stroke-width="1"/>
<line x1="61.5" y1="429.5" x2="61.5" y2="247.3" stroke="#808080" stroke-width="1"/>
<line x1="61.5" y1="429.3" x2="64.7" y2="429.3" stroke="#555555" stroke-width="1"/>
<text transform="translate(57.1,431.1) scale(0.95,1)" font-size="10.2" fill="#222222" stroke="#222222" stroke-width="0.22" text-anchor="end">0</text>
<line x1="61.5" y1="420.2" x2="63.4" y2="420.2" stroke="#555555" stroke-width="1"/>
<line x1="61.5" y1="411.1" x2="63.4" y2="411.1" stroke="#555555" stroke-width="1"/>
<line x1="61.5" y1="402" x2="63.4" y2="402" stroke="#555555" stroke-width="1"/>
<line x1="61.5" y1="392.9" x2="63.4" y2="392.9" stroke="#555555" stroke-width="1"/>
<line x1="61.5" y1="383.8" x2="64.7" y2="383.8" stroke="#555555" stroke-width="1"/>
<text transform="translate(57.1,385.6) scale(0.95,1)" font-size="10.2" fill="#222222" stroke="#222222" stroke-width="0.22" text-anchor="end">500</text>
<line x1="61.5" y1="374.7" x2="63.4" y2="374.7" stroke="#555555" stroke-width="1"/>
<line x1="61.5" y1="365.6" x2="63.4" y2="365.6" stroke="#555555" stroke-width="1"/>
<line x1="61.5" y1="356.5" x2="63.4" y2="356.5" stroke="#555555" stroke-width="1"/>
<line x1="61.5" y1="347.4" x2="63.4" y2="347.4" stroke="#555555" stroke-width="1"/>
<line x1="61.5" y1="338.3" x2="64.7" y2="338.3" stroke="#555555" stroke-width="1"/>
<text transform="translate(57.1,340.1) scale(0.95,1)" font-size="10.2" fill="#222222" stroke="#222222" stroke-width="0.22" text-anchor="end">1000</text>
<line x1="61.5" y1="329.2" x2="63.4" y2="329.2" stroke="#555555" stroke-width="1"/>
<line x1="61.5" y1="320.1" x2="63.4" y2="320.1" stroke="#555555" stroke-width="1"/>
<line x1="61.5" y1="311" x2="63.4" y2="311" stroke="#555555" stroke-width="1"/>
<line x1="61.5" y1="301.9" x2="63.4" y2="301.9" stroke="#555555" stroke-width="1"/>
<line x1="61.5" y1="292.8" x2="64.7" y2="292.8" stroke="#555555" stroke-width="1"/>
<text transform="translate(57.1,294.6) scale(0.95,1)" font-size="10.2" fill="#222222" stroke="#222222" stroke-width="0.22" text-anchor="end">1500</text>
<line x1="61.5" y1="283.7" x2="63.4" y2="283.7" stroke="#555555" stroke-width="1"/>
<line x1="61.5" y1="274.6" x2="63.4" y2="274.6" stroke="#555555" stroke-width="1"/>
<line x1="61.5" y1="265.5" x2="63.4" y2="265.5" stroke="#555555" stroke-width="1"/>
<line x1="61.5" y1="256.4" x2="63.4" y2="256.4" stroke="#555555" stroke-width="1"/>
<line x1="61.5" y1="247.3" x2="64.7" y2="247.3" stroke="#555555" stroke-width="1"/>
<text transform="translate(57.1,249.1) scale(0.95,1)" font-size="10.2" fill="#222222" stroke="#222222" stroke-width="0.22" text-anchor="end">2000</text>
<line x1="61.5" y1="429.5" x2="61.5" y2="426.3" stroke="#555555" stroke-width="1"/>
<text transform="translate(61.5,443.2) scale(0.95,1)" font-size="10.2" fill="#222222" stroke="#222222" stroke-width="0.22" text-anchor="middle">0</text>
<line x1="66.71" y1="429.5" x2="66.71" y2="427.6" stroke="#555555" stroke-width="1"/>
<line x1="71.92" y1="429.5" x2="71.92" y2="427.6" stroke="#555555" stroke-width="1"/>
<line x1="77.13" y1="429.5" x2="77.13" y2="427.6" stroke="#555555" stroke-width="1"/>
<line x1="82.34" y1="429.5" x2="82.34" y2="427.6" stroke="#555555" stroke-width="1"/>
<line x1="87.55" y1="429.5" x2="87.55" y2="426.3" stroke="#555555" stroke-width="1"/>
<text transform="translate(87.55,443.2) scale(0.95,1)" font-size="10.2" fill="#222222" stroke="#222222" stroke-width="0.22" text-anchor="middle">5</text>
<line x1="92.76" y1="429.5" x2="92.76" y2="427.6" stroke="#555555" stroke-width="1"/>
<line x1="97.97" y1="429.5" x2="97.97" y2="427.6" stroke="#555555" stroke-width="1"/>
<line x1="103.18" y1="429.5" x2="103.18" y2="427.6" stroke="#555555" stroke-width="1"/>
<line x1="108.39" y1="429.5" x2="108.39" y2="427.6" stroke="#555555" stroke-width="1"/>
<line x1="113.6" y1="429.5" x2="113.6" y2="426.3" stroke="#555555" stroke-width="1"/>
<text transform="translate(113.6,443.2) scale(0.95,1)" font-size="10.2" fill="#222222" stroke="#222222" stroke-width="0.22" text-anchor="middle">10</text>
<line x1="118.81" y1="429.5" x2="118.81" y2="427.6" stroke="#555555" stroke-width="1"/>
<line x1="124.02" y1="429.5" x2="124.02" y2="427.6" stroke="#555555" stroke-width="1"/>
<line x1="129.23" y1="429.5" x2="129.23" y2="427.6" stroke="#555555" stroke-width="1"/>
<line x1="134.44" y1="429.5" x2="134.44" y2="427.6" stroke="#555555" stroke-width="1"/>
<line x1="139.65" y1="429.5" x2="139.65" y2="426.3" stroke="#555555" stroke-width="1"/>
<text transform="translate(139.65,443.2) scale(0.95,1)" font-size="10.2" fill="#222222" stroke="#222222" stroke-width="0.22" text-anchor="middle">15</text>
<line x1="144.86" y1="429.5" x2="144.86" y2="427.6" stroke="#555555" stroke-width="1"/>
<line x1="150.07" y1="429.5" x2="150.07" y2="427.6" stroke="#555555" stroke-width="1"/>
<line x1="155.28" y1="429.5" x2="155.28" y2="427.6" stroke="#555555" stroke-width="1"/>
<line x1="160.49" y1="429.5" x2="160.49" y2="427.6" stroke="#555555" stroke-width="1"/>
<line x1="165.7" y1="429.5" x2="165.7" y2="426.3" stroke="#555555" stroke-width="1"/>
<text transform="translate(165.7,443.2) scale(0.95,1)" font-size="10.2" fill="#222222" stroke="#222222" stroke-width="0.22" text-anchor="middle">20</text>
<line x1="170.91" y1="429.5" x2="170.91" y2="427.6" stroke="#555555" stroke-width="1"/>
<line x1="176.12" y1="429.5" x2="176.12" y2="427.6" stroke="#555555" stroke-width="1"/>
<line x1="181.33" y1="429.5" x2="181.33" y2="427.6" stroke="#555555" stroke-width="1"/>
<line x1="186.54" y1="429.5" x2="186.54" y2="427.6" stroke="#555555" stroke-width="1"/>
<line x1="191.75" y1="429.5" x2="191.75" y2="426.3" stroke="#555555" stroke-width="1"/>
<text transform="translate(191.75,443.2) scale(0.95,1)" font-size="10.2" fill="#222222" stroke="#222222" stroke-width="0.22" text-anchor="middle">25</text>
<line x1="196.96" y1="429.5" x2="196.96" y2="427.6" stroke="#555555" stroke-width="1"/>
<line x1="202.17" y1="429.5" x2="202.17" y2="427.6" stroke="#555555" stroke-width="1"/>
<line x1="207.38" y1="429.5" x2="207.38" y2="427.6" stroke="#555555" stroke-width="1"/>
<line x1="212.59" y1="429.5" x2="212.59" y2="427.6" stroke="#555555" stroke-width="1"/>
<line x1="217.8" y1="429.5" x2="217.8" y2="426.3" stroke="#555555" stroke-width="1"/>
<text transform="translate(217.8,443.2) scale(0.95,1)" font-size="10.2" fill="#222222" stroke="#222222" stroke-width="0.22" text-anchor="middle">30</text>
<line x1="223.01" y1="429.5" x2="223.01" y2="427.6" stroke="#555555" stroke-width="1"/>
<line x1="228.22" y1="429.5" x2="228.22" y2="427.6" stroke="#555555" stroke-width="1"/>
<line x1="233.43" y1="429.5" x2="233.43" y2="427.6" stroke="#555555" stroke-width="1"/>
<line x1="238.64" y1="429.5" x2="238.64" y2="427.6" stroke="#555555" stroke-width="1"/>
<line x1="243.85" y1="429.5" x2="243.85" y2="426.3" stroke="#555555" stroke-width="1"/>
<text transform="translate(243.85,443.2) scale(0.95,1)" font-size="10.2" fill="#222222" stroke="#222222" stroke-width="0.22" text-anchor="middle">35</text>
<polygon points="61.2,446.4 63.7,451 58.7,451" fill="#000"/>
<line x1="61.2" y1="450.4" x2="61.2" y2="458.6" stroke="#000" stroke-width="2.4"/>
<text x="82.5" y="270.4" font-size="12" fill="#111" text-anchor="start" font-weight="normal">WSU-DLCL2</text>
<text x="131" y="463.2" font-size="12" fill="#111" text-anchor="start" font-weight="normal">Days</text>
<text transform="translate(28.2,387.3) rotate(-90)" font-size="12.3" fill="#111">Tumor volume mm<tspan font-size="8.4" dy="-4.6" dx="0.6">3</tspan></text>
<text x="-0.7" y="254" font-size="17" fill="#000" text-anchor="start" font-weight="bold">C</text>
<polyline points="61.5,411.1 77.13,392.81 97.97,373.15 113.6,350.31 134.44,309.73" fill="none" stroke="#000000" stroke-width="1.6" stroke-linejoin="round"/>
<line x1="77.13" y1="390.99" x2="77.13" y2="394.63" stroke="#000000" stroke-width="1.5"/>
<line x1="75.53" y1="390.99" x2="78.73" y2="390.99" stroke="#000000" stroke-width="1.4"/>
<line x1="75.53" y1="394.63" x2="78.73" y2="394.63" stroke="#000000" stroke-width="1.4"/>
<line x1="97.97" y1="370.42" x2="97.97" y2="375.88" stroke="#000000" stroke-width="1.5"/>
<line x1="96.37" y1="370.42" x2="99.57" y2="370.42" stroke="#000000" stroke-width="1.4"/>
<line x1="96.37" y1="375.88" x2="99.57" y2="375.88" stroke="#000000" stroke-width="1.4"/>
<line x1="113.6" y1="347.58" x2="113.6" y2="353.04" stroke="#000000" stroke-width="1.5"/>
<line x1="112" y1="347.58" x2="115.2" y2="347.58" stroke="#000000" stroke-width="1.4"/>
<line x1="112" y1="353.04" x2="115.2" y2="353.04" stroke="#000000" stroke-width="1.4"/>
<line x1="134.44" y1="303.81" x2="134.44" y2="315.64" stroke="#000000" stroke-width="1.5"/>
<line x1="132.84" y1="303.81" x2="136.04" y2="303.81" stroke="#000000" stroke-width="1.4"/>
<line x1="132.84" y1="315.64" x2="136.04" y2="315.64" stroke="#000000" stroke-width="1.4"/>
<rect x="59.05" y="408.65" width="4.9" height="4.9" fill="#000000"/>
<rect x="74.68" y="390.36" width="4.9" height="4.9" fill="#000000"/>
<rect x="95.52" y="370.7" width="4.9" height="4.9" fill="#000000"/>
<rect x="111.15" y="347.86" width="4.9" height="4.9" fill="#000000"/>
<rect x="131.99" y="307.28" width="4.9" height="4.9" fill="#000000"/>
<polyline points="61.5,411.1 77.13,394.26 97.97,374.25 113.6,364.05 134.44,327.47" fill="none" stroke="#000000" stroke-width="1.6" stroke-linejoin="round"/>
<line x1="77.13" y1="392.44" x2="77.13" y2="396.09" stroke="#000000" stroke-width="1.5"/>
<line x1="75.53" y1="392.44" x2="78.73" y2="392.44" stroke="#000000" stroke-width="1.4"/>
<line x1="75.53" y1="396.09" x2="78.73" y2="396.09" stroke="#000000" stroke-width="1.4"/>
<line x1="97.97" y1="371.51" x2="97.97" y2="376.98" stroke="#000000" stroke-width="1.5"/>
<line x1="96.37" y1="371.51" x2="99.57" y2="371.51" stroke="#000000" stroke-width="1.4"/>
<line x1="96.37" y1="376.98" x2="99.57" y2="376.98" stroke="#000000" stroke-width="1.4"/>
<line x1="113.6" y1="360.41" x2="113.6" y2="367.69" stroke="#000000" stroke-width="1.5"/>
<line x1="112" y1="360.41" x2="115.2" y2="360.41" stroke="#000000" stroke-width="1.4"/>
<line x1="112" y1="367.69" x2="115.2" y2="367.69" stroke="#000000" stroke-width="1.4"/>
<line x1="134.44" y1="320.19" x2="134.44" y2="334.75" stroke="#000000" stroke-width="1.5"/>
<line x1="132.84" y1="320.19" x2="136.04" y2="320.19" stroke="#000000" stroke-width="1.4"/>
<line x1="132.84" y1="334.75" x2="136.04" y2="334.75" stroke="#000000" stroke-width="1.4"/>
<circle cx="61.5" cy="411.1" r="2.55" fill="#000000"/>
<circle cx="77.13" cy="394.26" r="2.55" fill="#000000"/>
<circle cx="97.97" cy="374.25" r="2.55" fill="#000000"/>
<circle cx="113.6" cy="364.05" r="2.55" fill="#000000"/>
<circle cx="134.44" cy="327.47" r="2.55" fill="#000000"/>
<polyline points="61.5,411.1 77.13,398.36 97.97,385.98 113.6,369.51 134.44,350.86 150.07,319.74" fill="none" stroke="#1008c4" stroke-width="1.8" stroke-linejoin="round"/>
<line x1="77.13" y1="394.72" x2="77.13" y2="402" stroke="#1008c4" stroke-width="1.5"/>
<line x1="75.53" y1="394.72" x2="78.73" y2="394.72" stroke="#1008c4" stroke-width="1.4"/>
<line x1="75.53" y1="402" x2="78.73" y2="402" stroke="#1008c4" stroke-width="1.4"/>
<line x1="97.97" y1="381.43" x2="97.97" y2="390.53" stroke="#1008c4" stroke-width="1.5"/>
<line x1="96.37" y1="381.43" x2="99.57" y2="381.43" stroke="#1008c4" stroke-width="1.4"/>
<line x1="96.37" y1="390.53" x2="99.57" y2="390.53" stroke="#1008c4" stroke-width="1.4"/>
<line x1="113.6" y1="364.05" x2="113.6" y2="374.97" stroke="#1008c4" stroke-width="1.5"/>
<line x1="112" y1="364.05" x2="115.2" y2="364.05" stroke="#1008c4" stroke-width="1.4"/>
<line x1="112" y1="374.97" x2="115.2" y2="374.97" stroke="#1008c4" stroke-width="1.4"/>
<line x1="134.44" y1="341.3" x2="134.44" y2="360.41" stroke="#1008c4" stroke-width="1.5"/>
<line x1="132.84" y1="341.3" x2="136.04" y2="341.3" stroke="#1008c4" stroke-width="1.4"/>
<line x1="132.84" y1="360.41" x2="136.04" y2="360.41" stroke="#1008c4" stroke-width="1.4"/>
<line x1="150.07" y1="306.54" x2="150.07" y2="332.93" stroke="#1008c4" stroke-width="1.5"/>
<line x1="148.47" y1="306.54" x2="151.67" y2="306.54" stroke="#1008c4" stroke-width="1.4"/>
<line x1="148.47" y1="332.93" x2="151.67" y2="332.93" stroke="#1008c4" stroke-width="1.4"/>
<polygon points="61.5,408.4 64.3,411.1 61.5,413.8 58.7,411.1" fill="#1008c4"/>
<polygon points="77.13,395.66 79.93,398.36 77.13,401.06 74.33,398.36" fill="#1008c4"/>
<polygon points="97.97,383.28 100.77,385.98 97.97,388.68 95.17,385.98" fill="#1008c4"/>
<polygon points="113.6,366.81 116.4,369.51 113.6,372.21 110.8,369.51" fill="#1008c4"/>
<polygon points="134.44,348.16 137.24,350.86 134.44,353.56 131.64,350.86" fill="#1008c4"/>
<polygon points="150.07,317.04 152.87,319.74 150.07,322.44 147.27,319.74" fill="#1008c4"/>
<polyline points="61.5,411.1 77.13,404.73 97.97,395.63 113.6,381.8 134.44,364.42 150.07,355.41 170.91,330.02 186.54,292.35" fill="none" stroke="#c80c18" stroke-width="1.8" stroke-linejoin="round"/>
<line x1="77.13" y1="402.46" x2="77.13" y2="407" stroke="#c80c18" stroke-width="1.5"/>
<line x1="75.53" y1="402.46" x2="78.73" y2="402.46" stroke="#c80c18" stroke-width="1.4"/>
<line x1="75.53" y1="407" x2="78.73" y2="407" stroke="#c80c18" stroke-width="1.4"/>
<line x1="97.97" y1="391.99" x2="97.97" y2="399.27" stroke="#c80c18" stroke-width="1.5"/>
<line x1="96.37" y1="391.99" x2="99.57" y2="391.99" stroke="#c80c18" stroke-width="1.4"/>
<line x1="96.37" y1="399.27" x2="99.57" y2="399.27" stroke="#c80c18" stroke-width="1.4"/>
<line x1="113.6" y1="377.25" x2="113.6" y2="386.35" stroke="#c80c18" stroke-width="1.5"/>
<line x1="112" y1="377.25" x2="115.2" y2="377.25" stroke="#c80c18" stroke-width="1.4"/>
<line x1="112" y1="386.35" x2="115.2" y2="386.35" stroke="#c80c18" stroke-width="1.4"/>
<line x1="134.44" y1="357.59" x2="134.44" y2="371.24" stroke="#c80c18" stroke-width="1.5"/>
<line x1="132.84" y1="357.59" x2="136.04" y2="357.59" stroke="#c80c18" stroke-width="1.4"/>
<line x1="132.84" y1="371.24" x2="136.04" y2="371.24" stroke="#c80c18" stroke-width="1.4"/>
<line x1="150.07" y1="346.76" x2="150.07" y2="364.05" stroke="#c80c18" stroke-width="1.5"/>
<line x1="148.47" y1="346.76" x2="151.67" y2="346.76" stroke="#c80c18" stroke-width="1.4"/>
<line x1="148.47" y1="364.05" x2="151.67" y2="364.05" stroke="#c80c18" stroke-width="1.4"/>
<line x1="170.91" y1="319.55" x2="170.91" y2="340.48" stroke="#c80c18" stroke-width="1.5"/>
<line x1="169.31" y1="319.55" x2="172.51" y2="319.55" stroke="#c80c18" stroke-width="1.4"/>
<line x1="169.31" y1="340.48" x2="172.51" y2="340.48" stroke="#c80c18" stroke-width="1.4"/>
<line x1="186.54" y1="279.61" x2="186.54" y2="305.09" stroke="#c80c18" stroke-width="1.5"/>
<line x1="184.94" y1="279.61" x2="188.14" y2="279.61" stroke="#c80c18" stroke-width="1.4"/>
<line x1="184.94" y1="305.09" x2="188.14" y2="305.09" stroke="#c80c18" stroke-width="1.4"/>
<polygon points="61.5,408.9 64,412.9 59,412.9" fill="#c80c18"/>
<polygon points="77.13,402.53 79.63,406.53 74.63,406.53" fill="#c80c18"/>
<polygon points="97.97,393.43 100.47,397.43 95.47,397.43" fill="#c80c18"/>
<polygon points="113.6,379.6 116.1,383.6 111.1,383.6" fill="#c80c18"/>
<polygon points="134.44,362.22 136.94,366.22 131.94,366.22" fill="#c80c18"/>
<polygon points="150.07,353.21 152.57,357.21 147.57,357.21" fill="#c80c18"/>
<polygon points="170.91,327.82 173.41,331.82 168.41,331.82" fill="#c80c18"/>
<polygon points="186.54,290.15 189.04,294.15 184.04,294.15" fill="#c80c18"/>
<polyline points="61.5,411.1 77.13,404.91 97.97,400.09 113.6,389.62 134.44,373.97 150.07,361.23 170.91,336.03 186.54,297.81" fill="none" stroke="#5412cc" stroke-width="1.8" stroke-linejoin="round"/>
<line x1="77.13" y1="402.64" x2="77.13" y2="407.19" stroke="#5412cc" stroke-width="1.5"/>
<line x1="75.53" y1="402.64" x2="78.73" y2="402.64" stroke="#5412cc" stroke-width="1.4"/>
<line x1="75.53" y1="407.19" x2="78.73" y2="407.19" stroke="#5412cc" stroke-width="1.4"/>
<line x1="97.97" y1="395.99" x2="97.97" y2="404.18" stroke="#5412cc" stroke-width="1.5"/>
<line x1="96.37" y1="395.99" x2="99.57" y2="395.99" stroke="#5412cc" stroke-width="1.4"/>
<line x1="96.37" y1="404.18" x2="99.57" y2="404.18" stroke="#5412cc" stroke-width="1.4"/>
<line x1="113.6" y1="385.07" x2="113.6" y2="394.17" stroke="#5412cc" stroke-width="1.5"/>
<line x1="112" y1="385.07" x2="115.2" y2="385.07" stroke="#5412cc" stroke-width="1.4"/>
<line x1="112" y1="394.17" x2="115.2" y2="394.17" stroke="#5412cc" stroke-width="1.4"/>
<line x1="134.44" y1="367.6" x2="134.44" y2="380.34" stroke="#5412cc" stroke-width="1.5"/>
<line x1="132.84" y1="367.6" x2="136.04" y2="367.6" stroke="#5412cc" stroke-width="1.4"/>
<line x1="132.84" y1="380.34" x2="136.04" y2="380.34" stroke="#5412cc" stroke-width="1.4"/>
<line x1="150.07" y1="353.95" x2="150.07" y2="368.51" stroke="#5412cc" stroke-width="1.5"/>
<line x1="148.47" y1="353.95" x2="151.67" y2="353.95" stroke="#5412cc" stroke-width="1.4"/>
<line x1="148.47" y1="368.51" x2="151.67" y2="368.51" stroke="#5412cc" stroke-width="1.4"/>
<line x1="170.91" y1="326.01" x2="170.91" y2="346.04" stroke="#5412cc" stroke-width="1.5"/>
<line x1="169.31" y1="326.01" x2="172.51" y2="326.01" stroke="#5412cc" stroke-width="1.4"/>
<line x1="169.31" y1="346.04" x2="172.51" y2="346.04" stroke="#5412cc" stroke-width="1.4"/>
<line x1="186.54" y1="281.88" x2="186.54" y2="313.73" stroke="#5412cc" stroke-width="1.5"/>
<line x1="184.94" y1="281.88" x2="188.14" y2="281.88" stroke="#5412cc" stroke-width="1.4"/>
<line x1="184.94" y1="313.73" x2="188.14" y2="313.73" stroke="#5412cc" stroke-width="1.4"/>
<polygon points="61.5,413.3 64,409.3 59,409.3" fill="#5412cc"/>
<polygon points="77.13,407.11 79.63,403.11 74.63,403.11" fill="#5412cc"/>
<polygon points="97.97,402.29 100.47,398.29 95.47,398.29" fill="#5412cc"/>
<polygon points="113.6,391.82 116.1,387.82 111.1,387.82" fill="#5412cc"/>
<polygon points="134.44,376.17 136.94,372.17 131.94,372.17" fill="#5412cc"/>
<polygon points="150.07,363.43 152.57,359.43 147.57,359.43" fill="#5412cc"/>
<polygon points="170.91,338.23 173.41,334.23 168.41,334.23" fill="#5412cc"/>
<polygon points="186.54,300 189.04,296 184.04,296" fill="#5412cc"/>
<polyline points="61.5,411.1 77.13,413.65 97.97,426.66 113.6,428.48 134.44,429.3 150.07,429.3 170.91,429.3 186.54,429.3 212.59,429.3 228.22,428.39" fill="none" stroke="#077c18" stroke-width="1.8" stroke-linejoin="round"/>
<polygon points="59.5,408.8 59.5,414.4 65.1,414.4" fill="#077c18"/>
<polygon points="75.13,411.35 75.13,416.95 80.73,416.95" fill="#077c18"/>
<polygon points="95.97,424.36 95.97,429.96 101.57,429.96" fill="#077c18"/>
<polygon points="111.6,426.18 111.6,431.78 117.2,431.78" fill="#077c18"/>
<polygon points="132.44,427 132.44,432.6 138.04,432.6" fill="#077c18"/>
<polygon points="148.07,427 148.07,432.6 153.67,432.6" fill="#077c18"/>
<polygon points="168.91,427 168.91,432.6 174.51,432.6" fill="#077c18"/>
<polygon points="184.54,427 184.54,432.6 190.14,432.6" fill="#077c18"/>
<polygon points="210.59,427 210.59,432.6 216.19,432.6" fill="#077c18"/>
<polygon points="226.22,426.09 226.22,431.69 231.82,431.69" fill="#077c18"/>
<line x1="313.3" y1="319.4" x2="343.8" y2="319.4" stroke="#000000" stroke-width="2"/>
<rect x="325.1" y="316.4" width="9.4" height="9" fill="#000000"/>
<text x="349" y="325.1" font-size="10.7" fill="#111" text-anchor="start" font-weight="normal">Vehicle</text>
<line x1="313.3" y1="338.7" x2="343.8" y2="338.7" stroke="#000000" stroke-width="2"/>
<circle cx="329.8" cy="339.4" r="4.9" fill="#000000"/>
<text x="349" y="344.4" font-size="10.7" fill="#111" text-anchor="start" font-weight="normal">Anti-Her2-vcMMAE (control)</text>
<line x1="313.3" y1="357.3" x2="343.8" y2="357.3" stroke="#1008c4" stroke-width="2"/>
<polygon points="329.4,352.6 334.3,357.9 329.4,362.3 324.5,357.9" fill="#1008c4"/>
<text x="349" y="363" font-size="10.7" fill="#2222c4" text-anchor="start" font-weight="normal">Rituximab</text>
<line x1="313.3" y1="376" x2="343.8" y2="376" stroke="#c80c18" stroke-width="2"/>
<polygon points="329.8,373 334.8,380.5 324.8,380.5" fill="#c80c18"/>
<text x="349" y="381.7" font-size="10.7" fill="#c82224" text-anchor="start" font-weight="normal">CHOP</text>
<line x1="313.3" y1="395" x2="343.8" y2="395" stroke="#5412cc" stroke-width="2"/>
<polygon points="324.7,391.8 334.9,391.8 329.8,400" fill="#5412cc"/>
<text x="349" y="400.7" font-size="10.7" fill="#6030cc" text-anchor="start" font-weight="normal">Rituximab + CHOP</text>
<line x1="313.3" y1="413.6" x2="343.8" y2="413.6" stroke="#077c18" stroke-width="2"/>
<polygon points="326.6,410.2 326.6,419 335.5,419" fill="#077c18"/>
<text x="349" y="419.3" font-size="10.7" fill="#1e8a30" text-anchor="start" font-weight="normal">Anti-CD79b-vcMMAE</text>
</svg>
</body></html>
